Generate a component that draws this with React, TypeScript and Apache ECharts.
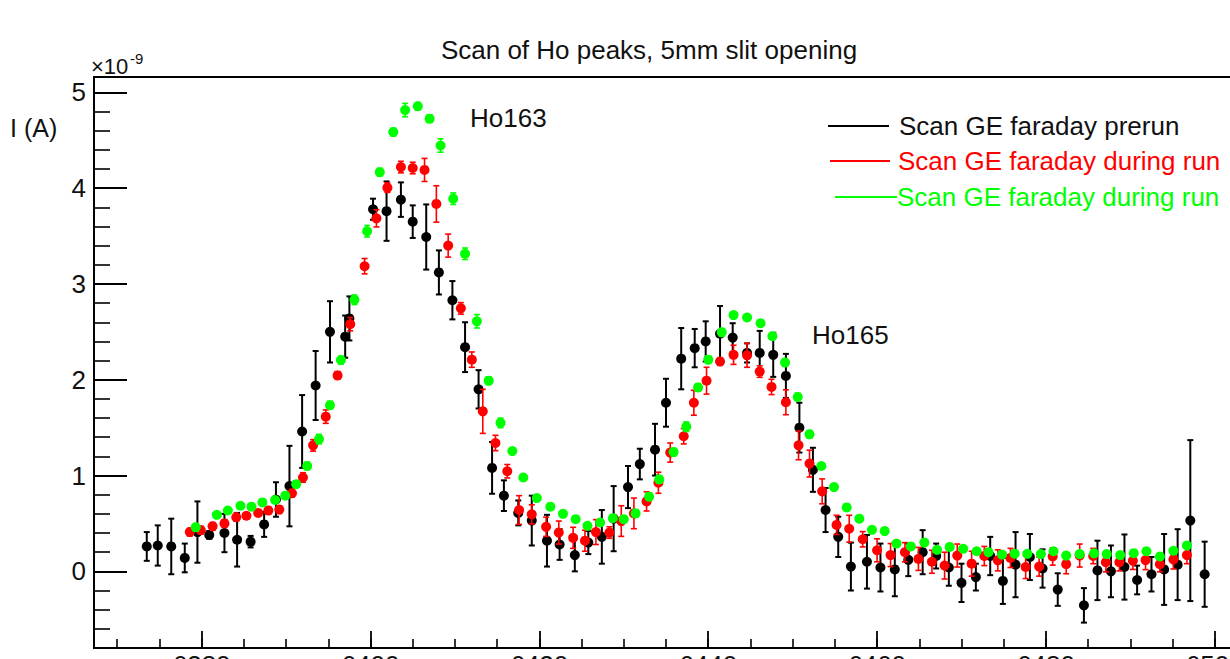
import React, { useEffect, useRef } from "react";
import * as echarts from "echarts";

// ---- texts ----
const TITLE = "Scan of Ho peaks, 5mm slit opening";
const Y_TITLE = "I (A)";
const Y_EXP_BASE = "×10";
const Y_EXP_POWER = "-9";
const PRERUN_NAME = "Scan GE faraday prerun";
const DURING_NAME = "Scan GE faraday during run";
const PEAK_LABELS = ["Ho163", "Ho165"];

// ---- axis ticks ----
const X_MIN = 6367.25;
const X_MAX = 6505;
const X_MAJOR = [6380, 6400, 6420, 6440, 6460, 6480, 6500];
const X_MINOR = [6370, 6375, 6380, 6385, 6390, 6395, 6400, 6405, 6410, 6415, 6420, 6425, 6430, 6435, 6440, 6445, 6450, 6455, 6460, 6465, 6470, 6475, 6480, 6485, 6490, 6495, 6500, 6505];
const Y_MIN = -0.8;
const Y_MAX = 5.16;
const Y_MAJOR = [0, 1, 2, 3, 4, 5];
const Y_MINOR = [-0.8, -0.6, -0.4, -0.2, 0, 0.2, 0.4, 0.6, 0.8, 1, 1.2, 1.4, 1.6, 1.8, 2, 2.2, 2.4, 2.6, 2.8, 3, 3.2, 3.4, 3.6, 3.8, 4, 4.2, 4.4, 4.6, 4.8, 5];

// ---- data: current in units of 1e-9 A ----
const prerunX = [
  6373.5, 6374.8, 6376.4, 6378.0, 6379.5, 6380.9, 6382.7, 6384.2, 6385.8, 6387.4,
  6388.8, 6390.4, 6391.9, 6393.5, 6395.2, 6397.0, 6397.5, 6400.3, 6401.9, 6403.6,
  6405.0, 6406.6, 6408.1, 6409.7, 6411.2, 6412.8, 6414.4, 6415.8, 6417.5, 6419.1,
  6420.9, 6422.4, 6424.2, 6425.8, 6427.4, 6428.8, 6430.5, 6431.9, 6433.7, 6435.0,
  6436.8, 6438.4, 6439.7, 6441.4, 6442.9, 6444.6, 6446.1, 6447.7, 6449.2, 6450.8,
  6452.4, 6453.9, 6455.4, 6456.9, 6458.8, 6460.4, 6462.1, 6463.7, 6465.4, 6467.0,
  6468.5, 6470.0, 6471.7, 6473.4, 6474.9, 6476.4, 6478.1, 6479.6, 6481.4, 6484.5,
  6486.1, 6487.7, 6489.3, 6490.8, 6492.5, 6494.0, 6495.6, 6497.1, 6498.8,
];
const prerunY = [
  0.26, 0.27, 0.26, 0.14, 0.41, 0.38, 0.40, 0.33, 0.31, 0.49,
  0.75, 0.89, 1.46, 1.94, 2.50, 2.45, 2.64, 3.78, 3.76, 3.88,
  3.65, 3.49, 3.12, 2.83, 2.34, 1.90, 1.08, 0.79, 0.61, 0.53,
  0.32, 0.28, 0.17, 0.30, 0.36, 0.55, 0.88, 1.12, 1.27, 1.76,
  2.22, 2.33, 2.40, 2.48, 2.44, 2.28, 2.28, 2.26, 2.04, 1.50,
  1.06, 0.64, 0.36, 0.05, 0.10, 0.04, 0.02, 0.12, 0.20, 0.16,
  0.04, -0.12, -0.06, 0.16, -0.10, 0.07, 0.15, 0.03, -0.19, -0.355,
  0.01, 0.00, 0.045, -0.09, -0.03, 0.02, 0.07, 0.53, -0.03,
];
const prerunErr = [
  0.15, 0.21, 0.29, 0.15, 0.32, 0.04, 0.20, 0.28, 0.06, 0.13,
  0.18, 0.42, 0.38, 0.36, 0.32, 0.22, 0.23, 0.11, 0.31, 0.18,
  0.17, 0.34, 0.23, 0.20, 0.26, 0.20, 0.27, 0.16, 0.13, 0.26,
  0.27, 0.16, 0.17, 0.12, 0.28, 0.34, 0.22, 0.16, 0.27, 0.25,
  0.32, 0.20, 0.21, 0.29, 0.15, 0.10, 0.23, 0.23, 0.23, 0.26,
  0.23, 0.23, 0.21, 0.25, 0.28, 0.25, 0.28, 0.17, 0.23, 0.13,
  0.19, 0.20, 0.14, 0.20, 0.24, 0.34, 0.24, 0.20, 0.17, 0.18,
  0.31, 0.27, 0.34, 0.15, 0.18, 0.37, 0.37, 0.84, 0.34,
];

const runAX = [
  6378.6, 6379.9, 6381.3, 6382.7, 6384.1, 6385.3, 6386.7, 6387.9, 6389.2, 6390.7,
  6392.0, 6393.2, 6394.7, 6396.1, 6397.6, 6399.3, 6400.7, 6402.0, 6403.6, 6405.0,
  6406.4, 6407.8, 6409.2, 6410.7, 6412.0, 6413.3, 6414.8, 6416.2, 6417.6, 6419.1,
  6420.8, 6422.3, 6424.0, 6425.4, 6426.7, 6428.3, 6429.7, 6431.2, 6432.7, 6434.1,
  6435.5, 6437.1, 6438.3, 6439.8, 6441.4, 6443.0, 6444.6, 6446.1, 6447.5, 6449.2,
  6450.7, 6452.0, 6453.5, 6455.2, 6456.7, 6458.3, 6460.0, 6461.6, 6463.3, 6464.9,
  6466.5, 6468.0, 6469.5, 6471.2, 6472.7, 6474.3, 6475.8, 6477.6, 6479.2, 6480.8,
  6482.4, 6484.0, 6485.6, 6487.1, 6488.7, 6490.3, 6491.8, 6493.5, 6495.1, 6496.7,
];
const runAY = [
  0.41, 0.43, 0.47, 0.50, 0.565, 0.58, 0.61, 0.635, 0.645, 0.815,
  0.98, 1.315, 1.615, 2.045, 2.58, 3.185, 3.685, 4.005, 4.22, 4.21,
  4.19, 3.835, 3.40, 2.745, 2.21, 1.67, 1.34, 1.045, 0.64, 0.595,
  0.465, 0.405, 0.35, 0.32, 0.41, 0.405, 0.525, 0.605, 0.73, 0.925,
  1.24, 1.41, 1.76, 1.99, 2.19, 2.26, 2.255, 2.085, 1.925, 1.765,
  1.315, 1.125, 0.835, 0.485, 0.445, 0.335, 0.22, 0.17, 0.20, 0.13,
  0.10, 0.06, 0.165, 0.08, 0.16, 0.115, 0.14, 0.045, 0.05, 0.155,
  0.075, 0.165, 0.16, 0.095, 0.095, 0.11, 0.118, 0.075, 0.125, 0.17,
];
const runAErr = [
  0.04, 0.04, 0.04, 0.04, 0.04, 0.03, 0.03, 0.04, 0.04, 0.04,
  0.05, 0.06, 0.07, 0.04, 0.07, 0.08, 0.09, 0.05, 0.06, 0.06,
  0.12, 0.19, 0.12, 0.06, 0.08, 0.23, 0.08, 0.07, 0.15, 0.10,
  0.10, 0.12, 0.11, 0.11, 0.13, 0.06, 0.16, 0.16, 0.10, 0.11,
  0.10, 0.08, 0.13, 0.14, 0.04, 0.10, 0.125, 0.06, 0.08, 0.13,
  0.15, 0.14, 0.13, 0.10, 0.14, 0.08, 0.12, 0.12, 0.10, 0.12,
  0.12, 0.14, 0.12, 0.13, 0.10, 0.11, 0.10, 0.12, 0.10, 0.09,
  0.10, 0.12, 0.08, 0.10, 0.09, 0.09, 0.10, 0.08, 0.10, 0.09,
];

const runBX = [
  6379.3, 6381.8, 6383.1, 6384.6, 6385.9, 6387.2, 6388.7, 6389.9, 6391.2, 6392.5,
  6393.9, 6395.2, 6396.5, 6398.1, 6399.6, 6401.1, 6402.7, 6404.1, 6405.6, 6407.0,
  6408.3, 6409.8, 6411.2, 6412.6, 6414.0, 6415.4, 6416.8, 6418.1, 6419.7, 6421.3,
  6422.8, 6424.3, 6425.7, 6427.2, 6428.7, 6430.0, 6431.4, 6433.0, 6434.2, 6435.9,
  6437.4, 6438.8, 6440.0, 6441.6, 6443.0, 6444.6, 6446.2, 6447.6, 6449.1, 6450.6,
  6452.0, 6453.4, 6454.9, 6456.4, 6457.9, 6459.4, 6460.9, 6462.3, 6464.0, 6465.6,
  6467.1, 6468.6, 6470.2, 6471.8, 6473.2, 6474.8, 6476.3, 6477.8, 6479.4, 6480.9,
  6482.4, 6484.0, 6485.7, 6487.2, 6488.8, 6490.4, 6491.9, 6493.5, 6495.1, 6496.7,
];
const runBY = [
  0.46, 0.59, 0.635, 0.685, 0.675, 0.72, 0.745, 0.79, 0.91, 1.10,
  1.38, 1.735, 2.205, 2.835, 3.55, 4.167, 4.585, 4.815, 4.855, 4.725,
  4.445, 3.89, 3.315, 2.61, 1.99, 1.55, 1.255, 0.98, 0.765, 0.675,
  0.60, 0.545, 0.475, 0.51, 0.555, 0.545, 0.605, 0.78, 0.96, 1.245,
  1.51, 1.92, 2.21, 2.495, 2.675, 2.65, 2.59, 2.455, 2.18, 1.82,
  1.43, 1.10, 0.88, 0.667, 0.55, 0.433, 0.42, 0.29, 0.26, 0.30,
  0.225, 0.255, 0.235, 0.21, 0.20, 0.175, 0.185, 0.183, 0.18, 0.21,
  0.165, 0.18, 0.188, 0.18, 0.17, 0.19, 0.21, 0.155, 0.215, 0.27,
];
const runBErr = [
  0.04, 0.03, 0.03, 0.03, 0.03, 0.03, 0.03, 0.03, 0.03, 0.04,
  0.05, 0.04, 0.04, 0.05, 0.06, 0.04, 0.04, 0.07, 0.04, 0.04,
  0.07, 0.06, 0.06, 0.07, 0.04, 0.05, 0.03, 0.03, 0.03, 0.03,
  0.03, 0.03, 0.03, 0.03, 0.03, 0.03, 0.04, 0.04, 0.04, 0.04,
  0.05, 0.04, 0.04, 0.04, 0.03, 0.03, 0.03, 0.03, 0.04, 0.04,
  0.04, 0.03, 0.03, 0.03, 0.03, 0.03, 0.03, 0.03, 0.03, 0.03,
  0.03, 0.03, 0.03, 0.03, 0.03, 0.03, 0.03, 0.03, 0.03, 0.03,
  0.03, 0.03, 0.03, 0.03, 0.03, 0.03, 0.03, 0.03, 0.03, 0.03,
];

const BLACK = "#000000";
const RED = "#ff0000";
const GREEN = "#00ff00";
const FONT = "'Liberation Sans', Arial, Helvetica, sans-serif";
const INK = "#111111";

function errorBars(name: string, xs: number[], ys: number[], es: number[], color: string, width: number, z: number) {
  return {
    name,
    type: "custom",
    z,
    silent: true,
    clip: true,
    encode: { x: 0, y: 1 },
    data: xs.map((x, i) => [x, ys[i], es[i]]),
    renderItem: (_params: any, api: any) => {
      const x = api.value(0);
      const y = api.value(1);
      const e = api.value(2);
      const hi = api.coord([x, y + e]);
      const lo = api.coord([x, y - e]);
      const cap = 3;
      const style = { stroke: color, lineWidth: width };
      return {
        type: "group",
        children: [
          { type: "line", shape: { x1: hi[0], y1: hi[1], x2: lo[0], y2: lo[1] }, style },
          { type: "line", shape: { x1: hi[0] - cap, y1: hi[1], x2: hi[0] + cap, y2: hi[1] }, style },
          { type: "line", shape: { x1: lo[0] - cap, y1: lo[1], x2: lo[0] + cap, y2: lo[1] }, style },
        ],
      };
    },
  };
}

function markers(name: string, xs: number[], ys: number[], color: string, z: number) {
  return {
    name,
    type: "scatter",
    z,
    silent: true,
    symbol: "circle",
    symbolSize: 10,
    itemStyle: { color, opacity: 1 },
    data: xs.map((x, i) => [x, ys[i]]),
  };
}

function text(str: string, x: number, y: number, size: number, color: string, align = "left") {
  return {
    type: "text",
    x,
    y,
    silent: true,
    style: {
      text: str,
      fill: color,
      font: `${size}px ${FONT}`,
      fontSize: size,
      fontFamily: FONT,
      textAlign: align,
      align,
      textVerticalAlign: "middle",
      verticalAlign: "middle",
    },
  };
}

function legendLine(x1: number, x2: number, y: number, color: string) {
  return {
    type: "line",
    silent: true,
    shape: { x1, y1: y, x2, y2: y },
    style: { stroke: color, lineWidth: 2 },
  };
}

export default function App() {
  const ref = useRef<HTMLDivElement>(null);

  useEffect(() => {
    if (!ref.current) return;
    const chart = echarts.init(ref.current, undefined, { renderer: "svg" });

    const labelStyle = { color: INK, fontSize: 26, fontFamily: FONT };

    chart.setOption({
      animation: false,
      backgroundColor: "#ffffff",
      grid: {
        left: 94,
        top: 77,
        right: -27,
        bottom: 11,
        outerBoundsMode: "none",
        containLabel: false,
        show: true,
        borderColor: BLACK,
        borderWidth: 2,
        backgroundColor: "transparent",
      },
      xAxis: [
        {
          type: "value",
          min: X_MIN,
          max: X_MAX,
          position: "bottom",
          axisLine: { show: true, onZero: false, lineStyle: { color: BLACK, width: 2 } },
          axisTick: { show: true, inside: true, length: 17, customValues: X_MAJOR, lineStyle: { color: BLACK, width: 1.8 } },
          axisLabel: { ...labelStyle, margin: 4, customValues: X_MAJOR, formatter: (v: number) => String(v) },
          splitLine: { show: false },
        },
        {
          type: "value",
          min: X_MIN,
          max: X_MAX,
          position: "bottom",
          axisLine: { show: false, onZero: false },
          axisTick: { show: true, inside: true, length: 9, customValues: X_MINOR, lineStyle: { color: BLACK, width: 1.6 } },
          axisLabel: { show: false },
          splitLine: { show: false },
        },
      ],
      yAxis: [
        {
          type: "value",
          min: Y_MIN,
          max: Y_MAX,
          position: "left",
          axisLine: { show: true, onZero: false, lineStyle: { color: BLACK, width: 2 } },
          axisTick: { show: true, inside: true, length: 33, customValues: Y_MAJOR, lineStyle: { color: BLACK, width: 1.8 } },
          axisLabel: { ...labelStyle, margin: 8, customValues: Y_MAJOR, formatter: (v: number) => String(v) },
          splitLine: { show: false },
        },
        {
          type: "value",
          min: Y_MIN,
          max: Y_MAX,
          position: "left",
          axisLine: { show: false, onZero: false },
          axisTick: { show: true, inside: true, length: 16, customValues: Y_MINOR, lineStyle: { color: BLACK, width: 1.6 } },
          axisLabel: { show: false },
          splitLine: { show: false },
        },
      ],
      series: [
        errorBars(PRERUN_NAME, prerunX, prerunY, prerunErr, BLACK, 2, 2),
        markers(PRERUN_NAME, prerunX, prerunY, BLACK, 3),
        errorBars(DURING_NAME, runAX, runAY, runAErr, RED, 1.6, 4),
        markers(DURING_NAME, runAX, runAY, RED, 5),
        errorBars(DURING_NAME, runBX, runBY, runBErr, GREEN, 1.6, 6),
        markers(DURING_NAME, runBX, runBY, GREEN, 7),
      ],
      graphic: [
        text(TITLE, 649, 50, 26, INK, "center"),
        text(Y_TITLE, 10, 128, 25, INK),
        text(Y_EXP_BASE, 91, 66, 22, INK),
        text(Y_EXP_POWER, 130, 58, 15, INK),
        text(PEAK_LABELS[0], 470, 118, 26, INK),
        text(PEAK_LABELS[1], 812, 335, 26, INK),
        legendLine(828, 889, 126, BLACK),
        text(PRERUN_NAME, 899, 126, 26, INK),
        legendLine(830, 890, 161, RED),
        text(DURING_NAME, 898, 161, 26, RED),
        legendLine(835, 897, 197, GREEN),
        text(DURING_NAME, 897, 197, 26, GREEN),
      ],
    });

    return () => chart.dispose();
  }, []);

  return (
    <div
      ref={ref}
      style={{ position: "fixed", left: 0, top: 0, width: 1230, height: 659, background: "#fff" }}
    />
  );
}
